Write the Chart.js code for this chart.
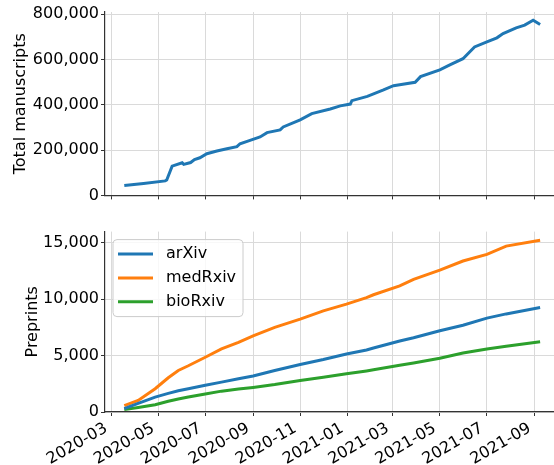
<!DOCTYPE html>
<html>
<head>
<meta charset="utf-8">
<script src="https://cdn.jsdelivr.net/npm/chart.js@4.4.0/dist/chart.umd.min.js"></script>
<style>
  html, body { margin: 0; padding: 0; background: #fff; overflow: hidden; }
  #wrap { position: relative; width: 554px; height: 465px; }
  canvas { position: absolute; left: 0; }
  #topChart { top: 0; }
  #bottomChart { top: 220px; }
</style>
</head>
<body>
<div id="wrap">
  <canvas id="topChart" width="554" height="207"></canvas>
  <canvas id="bottomChart" width="554" height="245"></canvas>
</div>
<script>
// values
const totalDates = [
  '2020-03-18', '2020-04-12', '2020-05-10', '2020-05-12', '2020-05-19', '2020-06-01',
  '2020-06-03', '2020-06-12', '2020-06-17', '2020-06-24', '2020-07-03', '2020-07-16',
  '2020-07-29', '2020-08-11', '2020-08-15', '2020-08-28', '2020-09-10', '2020-09-19',
  '2020-10-06', '2020-10-10', '2020-11-01', '2020-11-16', '2020-12-10', '2020-12-23',
  '2021-01-05', '2021-01-07', '2021-01-27', '2021-02-17', '2021-03-02', '2021-03-10',
  '2021-03-30', '2021-04-06', '2021-05-01', '2021-05-14', '2021-05-31', '2021-06-15',
  '2021-07-01', '2021-07-14', '2021-07-22', '2021-08-08', '2021-08-19', '2021-08-30',
  '2021-09-08'
];
const totalManuscripts = [
  44000, 53000, 64000, 68000, 129000, 144000,
  137000, 145000, 158000, 166000, 184000, 196000,
  206000, 215000, 228000, 243000, 258000, 277000,
  289000, 302000, 333000, 361000, 381000, 395000,
  403000, 418000, 437000, 465000, 484000, 488000,
  499000, 524000, 554000, 576000, 603000, 655000,
  677000, 695000, 714000, 739000, 751000, 773000,
  754000
];

const preprintDates = [
  '2020-03-18', '2020-04-05', '2020-04-27', '2020-05-14', '2020-05-27', '2020-06-09',
  '2020-07-01', '2020-07-22', '2020-08-13', '2020-09-01', '2020-09-29', '2020-11-01',
  '2020-12-01', '2020-12-31', '2021-01-26', '2021-02-04', '2021-03-10', '2021-03-28',
  '2021-05-01', '2021-05-31', '2021-07-01', '2021-07-26', '2021-09-08'
];
const arxiv = [
  300, 760, 1325, 1650, 1880, 2060,
  2380, 2650, 2950, 3200, 3680, 4210,
  4650, 5150, 5500, 5680, 6300, 6580,
  7210, 7700, 8330, 8700, 9265
];
const medrxiv = [
  565, 1030, 2060, 3035, 3680, 4100,
  4855, 5590, 6180, 6750, 7500, 8240,
  8975, 9565, 10150, 10400, 11180, 11770,
  12590, 13390, 13980, 14710, 15240
];
const biorxiv = [
  210, 400, 650, 950, 1150, 1325,
  1600, 1850, 2030, 2180, 2440, 2800,
  3090, 3390, 3640, 3740, 4150, 4350,
  4765, 5230, 5590, 5830, 6240
];

const seriesNames = ['arXiv', 'medRxiv', 'bioRxiv'];
const seriesColors = ['#1f77b4', '#ff7f0e', '#2ca02c'];
const tickLabels = ['2020-03', '2020-05', '2020-07', '2020-09', '2020-11',
                    '2021-01', '2021-03', '2021-05', '2021-07', '2021-09'];
const totalTicks = [0, 200000, 400000, 600000, 800000];
const preprintTicks = [0, 5000, 10000, 15000];

// days since 2020-03-01
function dayNum(s) {
  const p = s.split('-').map(Number);
  return (Date.UTC(p[0], p[1] - 1, p[2] || 1) - Date.UTC(2020, 2, 1)) / 864e5;
}
const tickDays = tickLabels.map(t => dayNum(t + '-01'));
const pts = (dates, vals) => dates.map((d, i) => ({ x: dayNum(d), y: vals[i] }));

Chart.defaults.font.family = "'DejaVu Sans', sans-serif";
Chart.defaults.font.size = 16;
Chart.defaults.color = '#000';

const GRID = '#dadada';
const SPINE = '#333';

function xAxis(showLabels, height) {
  return {
    type: 'linear',
    min: -8,
    max: 574,
    afterBuildTicks: s => { s.ticks = tickDays.map(v => ({ value: v })); },
    afterFit: s => { s.height = height; s.paddingLeft = 0; s.paddingRight = 0; },
    grid: { color: GRID, lineWidth: 1, tickColor: SPINE, tickLength: 4, tickWidth: 1 },
    border: { color: SPINE, width: 1.2 },
    ticks: {
      display: showLabels,
      autoSkip: false,
      minRotation: 30,
      maxRotation: 30,
      padding: 3,
      labelOffset: -5,
      callback: (v, i) => tickLabels[i]
    }
  };
}

function yAxis(title, max, tickVals, titlePad) {
  return {
    min: 0,
    max: max,
    afterBuildTicks: s => { s.ticks = tickVals.map(v => ({ value: v })); },
    afterFit: s => { s.width = 105; },
    grid: { color: GRID, lineWidth: 1, tickColor: SPINE, tickLength: 4, tickWidth: 1 },
    border: { color: SPINE, width: 1.2 },
    ticks: { padding: 2, callback: v => v.toLocaleString('en-US') },
    title: { display: true, text: title, padding: { top: titlePad, bottom: 0 } }
  };
}

// Top: total manuscripts
new Chart(document.getElementById('topChart'), {
  type: 'line',
  data: {
    datasets: [{
      label: 'Total manuscripts',
      data: pts(totalDates, totalManuscripts),
      borderColor: '#1f77b4',
      borderWidth: 3,
      pointRadius: 0,
      tension: 0
    }]
  },
  options: {
    responsive: false,
    animation: false,
    layout: { padding: { top: 12, left: 0, right: 0, bottom: 0 } },
    plugins: { legend: { display: false }, tooltip: { enabled: false } },
    scales: {
      x: xAxis(false, 6),
      y: yAxis('Total manuscripts', 809000, totalTicks, 11)
    }
  }
});

// legend box drawn in the upper-left of the plot, like matplotlib
const boxLegend = {
  id: 'boxLegend',
  afterDatasetsDraw(chart) {
    const ctx = chart.ctx;
    const ca = chart.chartArea;
    const x = ca.left + 8, y = ca.top + 8, w = 130, h = 77;
    ctx.save();
    ctx.beginPath();
    ctx.roundRect(x, y, w, h, 4);
    ctx.fillStyle = 'rgba(255,255,255,0.8)';
    ctx.fill();
    ctx.strokeStyle = '#cccccc';
    ctx.lineWidth = 1;
    ctx.stroke();
    ctx.font = "16px 'DejaVu Sans'";
    ctx.textBaseline = 'middle';
    chart.data.datasets.forEach((ds, i) => {
      const yy = y + 14.5 + i * 23.8;
      ctx.beginPath();
      ctx.moveTo(x + 5, yy);
      ctx.lineTo(x + 40, yy);
      ctx.strokeStyle = ds.borderColor;
      ctx.lineWidth = 3;
      ctx.stroke();
      ctx.fillStyle = '#000';
      ctx.fillText(ds.label, x + 53, yy);
    });
    ctx.restore();
  }
};

// Bottom: preprints per server
const series = [arxiv, medrxiv, biorxiv];
new Chart(document.getElementById('bottomChart'), {
  type: 'line',
  data: {
    datasets: series.map((vals, i) => ({
      label: seriesNames[i],
      data: pts(preprintDates, vals),
      borderColor: seriesColors[i],
      borderWidth: 3,
      pointRadius: 0,
      tension: 0
    }))
  },
  options: {
    responsive: false,
    animation: false,
    layout: { padding: { top: 10, left: 0, right: 0, bottom: 0 } },
    plugins: { legend: { display: false }, tooltip: { enabled: false } },
    scales: {
      x: xAxis(true, 53),
      y: yAxis('Preprints', 16000, preprintTicks, 23)
    }
  },
  plugins: [boxLegend]
});
</script>
</body>
</html>
